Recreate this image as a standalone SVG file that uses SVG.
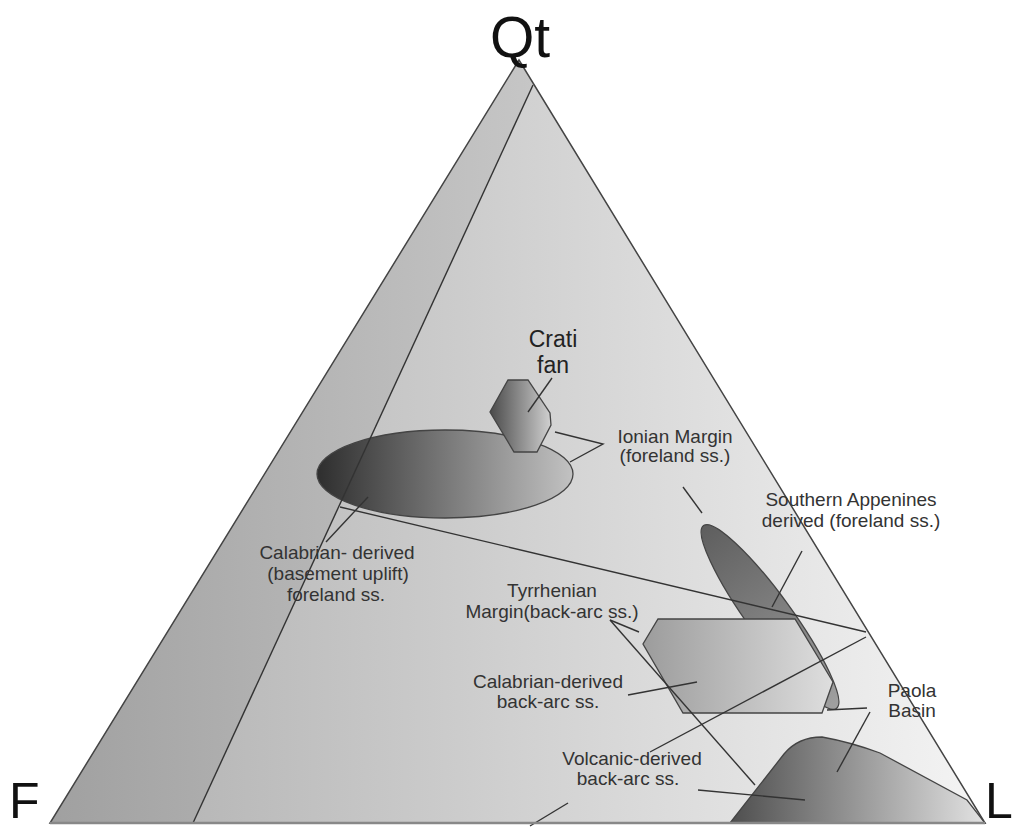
<svg xmlns="http://www.w3.org/2000/svg" width="1014" height="830" viewBox="0 0 1014 830">
<defs>
<linearGradient id="gMain" gradientUnits="userSpaceOnUse" x1="50" y1="0" x2="985" y2="0">
<stop offset="0" stop-color="#adadad"/><stop offset="1" stop-color="#f4f4f4"/>
</linearGradient>
<linearGradient id="gStrip" gradientUnits="userSpaceOnUse" x1="50" y1="0" x2="533" y2="0">
<stop offset="0" stop-color="#a0a0a0"/><stop offset="1" stop-color="#c6c6c6"/>
</linearGradient>
<linearGradient id="gEll" x1="0" y1="0" x2="1" y2="0">
<stop offset="0" stop-color="#2e2e2e"/><stop offset="1" stop-color="#c2c2c2"/>
</linearGradient>
<linearGradient id="gCrati" x1="0" y1="0" x2="1" y2="0">
<stop offset="0" stop-color="#4a4a4a"/><stop offset="1" stop-color="#d0d0d0"/>
</linearGradient>
<linearGradient id="gTilt" x1="0" y1="0" x2="1" y2="0">
<stop offset="0" stop-color="#5e5e5e"/><stop offset="1" stop-color="#a0a0a0"/>
</linearGradient>
<linearGradient id="gHex" x1="0" y1="0" x2="1" y2="0">
<stop offset="0" stop-color="#9c9c9c"/><stop offset="1" stop-color="#dedede"/>
</linearGradient>
<linearGradient id="gBlob" x1="0" y1="0" x2="1" y2="0">
<stop offset="0" stop-color="#4e4e4e"/><stop offset="1" stop-color="#e2e2e2"/>
</linearGradient>
</defs>
<style>
.lbl{font-family:"Liberation Sans",Arial,sans-serif;font-size:19px;fill:#333;text-anchor:middle}
.big{font-family:"Liberation Sans",Arial,sans-serif;font-size:57px;fill:#111}
.corner{font-family:"Liberation Sans",Arial,sans-serif;font-size:50px;fill:#111}
.crati{font-family:"Liberation Sans",Arial,sans-serif;font-size:23px;fill:#222;text-anchor:middle}
.shape{stroke:#444;stroke-width:1.3}
.ln{stroke:#333;stroke-width:1.4;fill:none}
</style>

<g id="triangle">
<polygon points="519,60 50,823 985,823" fill="url(#gMain)"/>
<polygon points="519,60 533,85 193,823 50,823" fill="url(#gStrip)"/>
</g>

<g id="calabrian-basement">
<ellipse cx="445" cy="474" rx="128" ry="44" fill="url(#gEll)" class="shape"/>
</g>
<g id="crati-fan">
<polygon points="508,380 528,380 550,413 551,425 537,452 514,452 490,412" fill="url(#gCrati)" class="shape"/>
</g>
<g id="southern-appenines">
<ellipse cx="770" cy="617" rx="113" ry="22" transform="rotate(54 770 617)" fill="url(#gTilt)" class="shape"/>
</g>
<g id="calabrian-backarc">
<polygon points="658,619 795,619 833,682 822,713 683,713 643,644" fill="url(#gHex)" class="shape"/>
</g>
<g id="paola-basin">
<path d="M730,823 L784,754 Q798,737 822,737 Q850,742 880,753 L967,800 L985,823 Z" fill="url(#gBlob)" class="shape"/>
</g>

<g id="connectors" class="ln">
<line x1="533" y1="85" x2="193" y2="823"/>
<line x1="340" y1="507" x2="866" y2="632"/>
<line x1="866" y1="637" x2="650" y2="752"/>
<line x1="552" y1="378" x2="528" y2="412"/>
<polyline points="555,432 603,444 570,462"/>
<line x1="683" y1="487" x2="702" y2="513"/>
<line x1="802" y1="551" x2="772" y2="607"/>
<line x1="326" y1="542" x2="368" y2="497"/>
<line x1="610" y1="620" x2="639" y2="632"/>
<line x1="610" y1="620" x2="755" y2="785"/>
<line x1="628" y1="695" x2="697" y2="682"/>
<line x1="827" y1="710" x2="867" y2="708"/>
<line x1="870" y1="712" x2="837" y2="772"/>
<line x1="698" y1="790" x2="805" y2="800"/>
<line x1="568" y1="803" x2="530" y2="826"/>
</g>

<g id="triangle-outline">
<polygon points="519,60 50,823 985,823" fill="none" stroke="#444" stroke-width="1.5"/>
<line x1="50" y1="823" x2="985" y2="823" stroke="#888" stroke-width="2.5"/>
</g>

<g id="labels">
<text class="big" x="490" y="57">Qt</text>
<text class="corner" x="9" y="818">F</text>
<text class="corner" x="985" y="818">L</text>
<text class="crati" x="553" y="347">Crati</text>
<text class="crati" x="553" y="373">fan</text>
<text class="lbl" x="675" y="443">Ionian Margin</text>
<text class="lbl" x="675" y="462">(foreland ss.)</text>
<text class="lbl" x="851" y="506">Southern Appenines</text>
<text class="lbl" x="851" y="527">derived (foreland ss.)</text>
<text class="lbl" x="337" y="559">Calabrian- derived</text>
<text class="lbl" x="338" y="580">(basement uplift)</text>
<text class="lbl" x="336" y="601">foreland ss.</text>
<text class="lbl" x="552" y="597">Tyrrhenian</text>
<text class="lbl" x="552" y="618">Margin(back-arc ss.)</text>
<text class="lbl" x="548" y="688">Calabrian-derived</text>
<text class="lbl" x="548" y="708">back-arc ss.</text>
<text class="lbl" x="912" y="697">Paola</text>
<text class="lbl" x="912" y="717">Basin</text>
<text class="lbl" x="632" y="765">Volcanic-derived</text>
<text class="lbl" x="628" y="785">back-arc ss.</text>
</g>
</svg>
